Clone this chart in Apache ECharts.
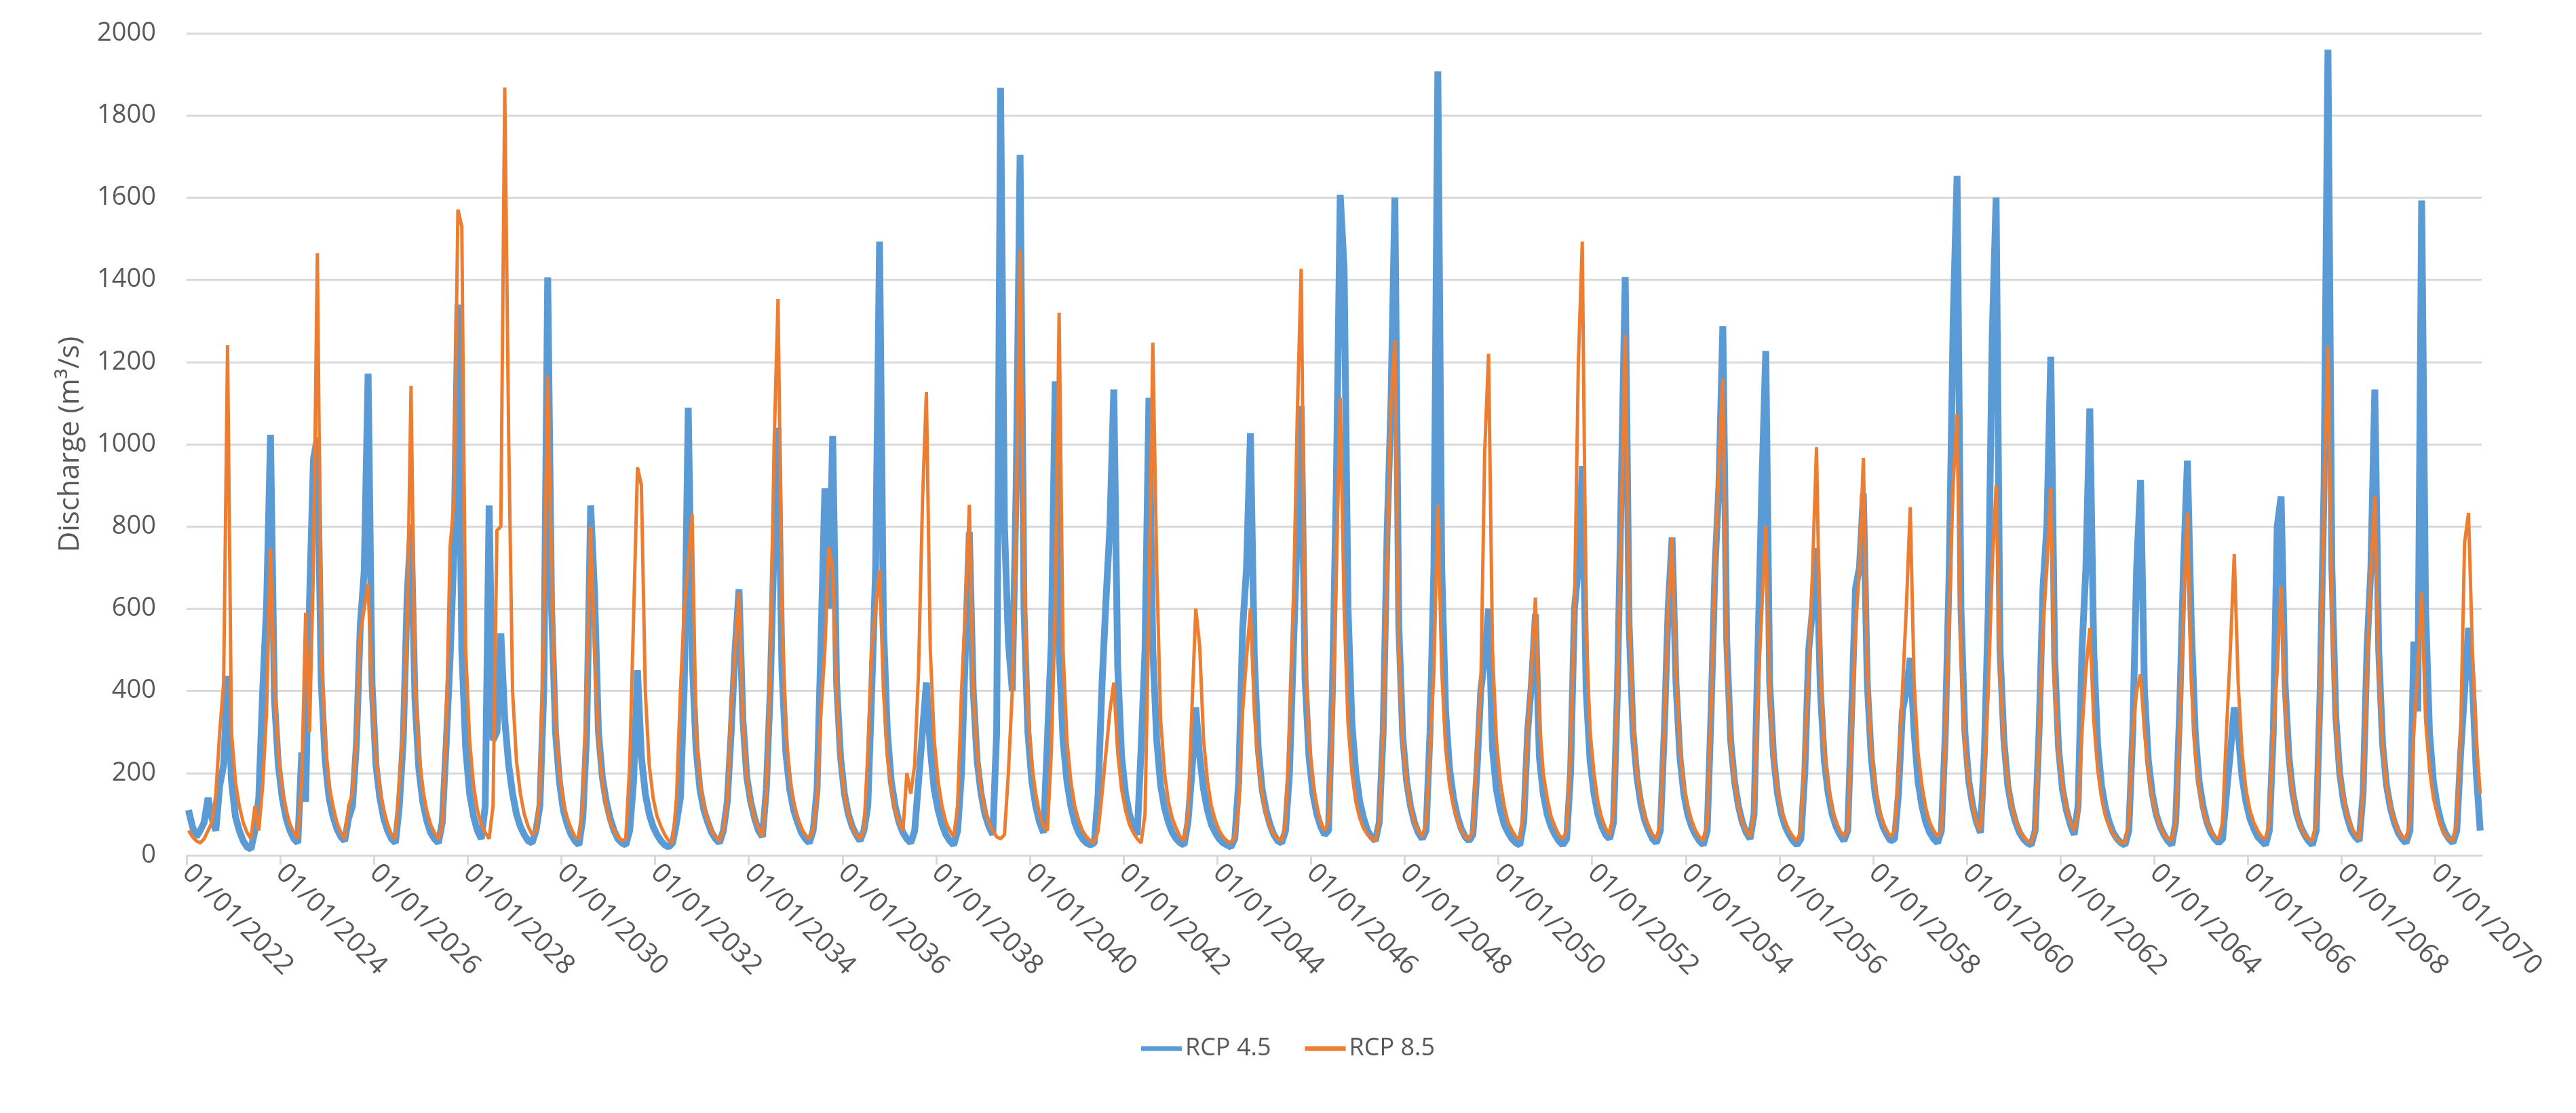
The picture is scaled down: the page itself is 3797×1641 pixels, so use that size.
<!DOCTYPE html>
<html><head><meta charset="utf-8">
<script src="https://cdn.jsdelivr.net/npm/echarts@6/dist/echarts.min.js"></script>
<style>html,body{margin:0;padding:0;background:#fff}#c{width:3797px;height:1641px}</style>
</head><body><div id="c"></div>
<script>
const startYear = 2022;
const yTicks = [0,200,400,600,800,1000,1200,1400,1600,1800,2000];
const seriesNames = ['RCP 4.5','RCP 8.5'];
// monthly discharge (m3/s), one row per year, Jan..Dec
const rcp45 = [
[110,70,45,60,80,140,90,60,170,220,436,180],
[95,60,35,20,15,60,140,400,610,1023,380,220],
[140,90,60,40,30,250,130,620,964,1016,420,230],
[140,95,65,45,35,90,120,270,560,690,1172,420],
[220,140,90,60,40,30,120,280,630,805,380,210],
[130,85,55,40,30,80,270,480,740,1340,500,260],
[150,95,60,40,120,851,280,300,540,330,220,150],
[100,70,50,35,30,60,120,400,1406,600,300,180],
[110,75,50,35,25,90,300,851,640,300,190,130],
[90,60,40,30,25,60,180,450,240,150,100,70],
[50,35,25,20,30,80,140,420,1089,480,260,160],
[110,80,55,40,30,60,130,300,500,647,330,190],
[130,90,60,45,160,400,760,1040,450,250,160,110],
[80,55,40,30,60,160,520,893,600,1020,420,240],
[150,100,70,50,35,60,120,400,700,1493,560,300],
[180,120,80,55,40,30,60,180,300,420,260,160],
[110,75,50,35,25,60,200,500,787,400,230,150],
[100,70,50,300,1867,800,520,400,900,1704,600,300],
[180,120,80,55,280,520,1153,500,280,180,120,80],
[55,40,30,25,30,150,420,620,800,1133,460,240],
[150,100,70,50,260,500,1113,500,280,170,115,80],
[55,40,30,25,80,200,360,240,160,110,75,55],
[40,30,25,20,40,180,550,700,1027,480,260,160],
[110,75,50,35,30,60,200,500,780,1093,430,240],
[150,100,70,50,60,400,900,1607,1427,600,320,200],
[130,90,60,45,35,80,300,780,1100,1600,560,290],
[180,120,80,55,40,60,300,700,1907,700,350,210],
[140,95,65,45,35,50,200,400,480,600,260,160],
[110,75,55,40,30,25,80,300,420,587,240,150],
[100,70,50,35,25,40,200,600,700,947,400,230],
[150,100,70,50,40,80,400,900,1407,560,300,190],
[125,85,60,40,30,60,300,600,773,420,240,150],
[100,70,50,35,25,60,350,700,900,1287,520,280],
[180,120,80,55,40,100,500,900,1227,420,240,150],
[100,70,50,35,25,40,200,500,600,747,400,230],
[150,100,70,50,35,60,350,650,700,880,420,240],
[150,100,70,50,35,40,150,350,400,480,300,180],
[120,80,55,40,30,60,300,700,1300,1653,600,300],
[180,120,80,55,250,600,1260,1600,500,280,170,115],
[80,55,40,30,25,60,300,650,800,1213,480,260],
[160,110,75,50,120,500,700,1087,500,270,170,115],
[80,55,40,30,25,60,300,700,913,400,230,150],
[100,70,50,35,25,80,350,700,960,560,300,180],
[120,80,55,40,30,40,150,250,360,300,190,130],
[90,65,45,35,25,60,300,800,873,420,240,150],
[100,70,50,35,25,60,400,900,1960,700,340,200],
[130,90,60,45,35,150,500,700,1133,500,270,170],
[115,80,55,40,30,60,520,350,1593,600,300,180],
[120,80,55,40,30,60,250,400,553,420,200,60]
];
const rcp85 = [
[60,45,35,30,40,60,80,150,300,420,1241,300],
[180,120,80,55,40,120,60,170,350,746,420,250],
[160,110,75,55,40,180,590,300,700,1465,500,280],
[170,120,80,55,40,120,150,280,540,600,660,400],
[240,160,110,75,50,40,180,300,550,1142,420,250],
[160,110,75,55,40,70,300,750,860,1571,1530,500],
[280,170,110,75,55,40,120,790,800,1868,1020,400],
[230,150,100,70,50,60,150,550,1168,700,330,200],
[130,90,65,45,40,120,400,799,500,280,180,120],
[80,60,45,35,40,220,580,944,900,400,220,140],
[95,70,50,35,30,140,400,600,713,830,300,180],
[120,85,60,45,35,60,130,350,500,640,330,190],
[130,90,65,45,150,450,1000,1353,600,300,190,130],
[90,65,50,40,60,140,350,500,750,700,400,230],
[150,100,70,50,40,60,250,500,600,693,400,240],
[160,110,80,60,200,150,220,450,860,1127,500,280],
[180,120,80,60,45,120,400,600,853,400,250,160],
[110,80,60,45,40,50,200,400,800,1473,700,350],
[220,150,100,70,60,250,600,1320,500,280,180,120],
[85,60,45,35,30,60,150,250,350,420,250,160],
[110,75,55,40,30,100,600,1247,700,330,200,130],
[90,65,45,35,100,350,600,510,280,180,120,85],
[60,45,35,30,40,120,350,480,600,350,220,150],
[100,70,50,40,35,80,300,600,1070,1427,500,280],
[180,120,80,60,80,300,700,1113,600,320,200,130],
[90,65,50,40,35,80,300,700,1100,1253,500,280],
[180,120,80,60,45,80,250,450,853,450,260,170],
[120,85,60,45,40,60,250,400,980,1220,500,280],
[180,120,80,60,45,40,100,300,450,627,330,200],
[140,95,70,50,40,60,250,600,1200,1493,550,300],
[200,130,90,65,50,100,400,800,1267,600,320,200],
[140,95,70,50,40,80,300,600,773,450,260,170],
[120,85,60,45,35,80,350,700,950,1160,480,270],
[180,120,80,60,45,100,400,600,800,400,240,160],
[110,80,60,45,35,60,250,450,700,993,450,260],
[170,115,80,60,45,60,300,550,700,967,450,260],
[170,115,80,60,45,60,200,400,600,847,420,250],
[170,115,80,60,45,60,280,600,900,1073,480,270],
[180,120,80,60,200,400,700,900,450,270,180,120],
[85,60,45,35,30,60,280,550,700,893,420,250],
[170,115,80,60,100,300,450,553,330,210,140,95],
[70,50,40,30,30,80,300,400,440,300,200,140],
[100,70,50,40,35,80,300,600,833,420,250,160],
[110,80,60,45,40,80,300,500,733,420,250,160],
[110,80,60,45,40,80,300,450,653,380,230,150],
[100,70,50,40,35,80,400,860,1240,600,320,200],
[140,95,70,50,40,150,450,700,873,450,270,170],
[120,85,60,45,40,80,300,450,640,330,210,140],
[100,70,50,40,35,80,300,760,833,500,280,150]
];
function toPoints(rows){
  const pts=[];
  rows.forEach((row,yi)=>row.forEach((v,m)=>pts.push([startYear+yi+(m+0.5)/12, v])));
  return pts;
}
const chart = echarts.init(document.getElementById('c'));
const txt = '#595959', grid = '#d9d9d9';
chart.setOption({
  animation:false,
  backgroundColor:'#fff',
  color:['#5B9BD5','#ED7D31'],
  grid:{left:275,right:139,top:49,bottom:380},
  legend:{bottom:72,left:'center',itemWidth:60,itemHeight:7,itemGap:50,
    textStyle:{color:txt,fontSize:36,fontFamily:'Open Sans'},
    data:seriesNames.map(n=>({name:n,icon:'rect'}))},
  xAxis:{type:'value',min:startYear,max:2070.99,interval:2,
    axisLine:{lineStyle:{color:grid,width:3}},
    axisTick:{show:true,length:14,lineStyle:{color:grid,width:3}},
    splitLine:{show:false},
    axisLabel:{rotate:-45,color:txt,fontSize:40,fontFamily:'Open Sans',margin:20,showMaxLabel:false,
      formatter:v=>Number.isInteger(v)?'01/01/'+v:''}},
  yAxis:{type:'value',min:yTicks[0],max:yTicks[yTicks.length-1],interval:200,
    name:'Discharge (m³/s)',nameLocation:'middle',nameGap:150,
    nameTextStyle:{color:txt,fontSize:42,fontFamily:'Open Sans'},
    axisLine:{show:false},axisTick:{show:false},
    splitLine:{lineStyle:{color:grid,width:3}},
    axisLabel:{color:txt,fontSize:38,fontFamily:'Open Sans',margin:45,formatter:v=>String(v)}},
  series:[
    {name:seriesNames[0],type:'line',showSymbol:false,data:toPoints(rcp45),lineStyle:{width:10},z:2},
    {name:seriesNames[1],type:'line',showSymbol:false,data:toPoints(rcp85),lineStyle:{width:5},z:3}
  ]
});
</script></body></html>
